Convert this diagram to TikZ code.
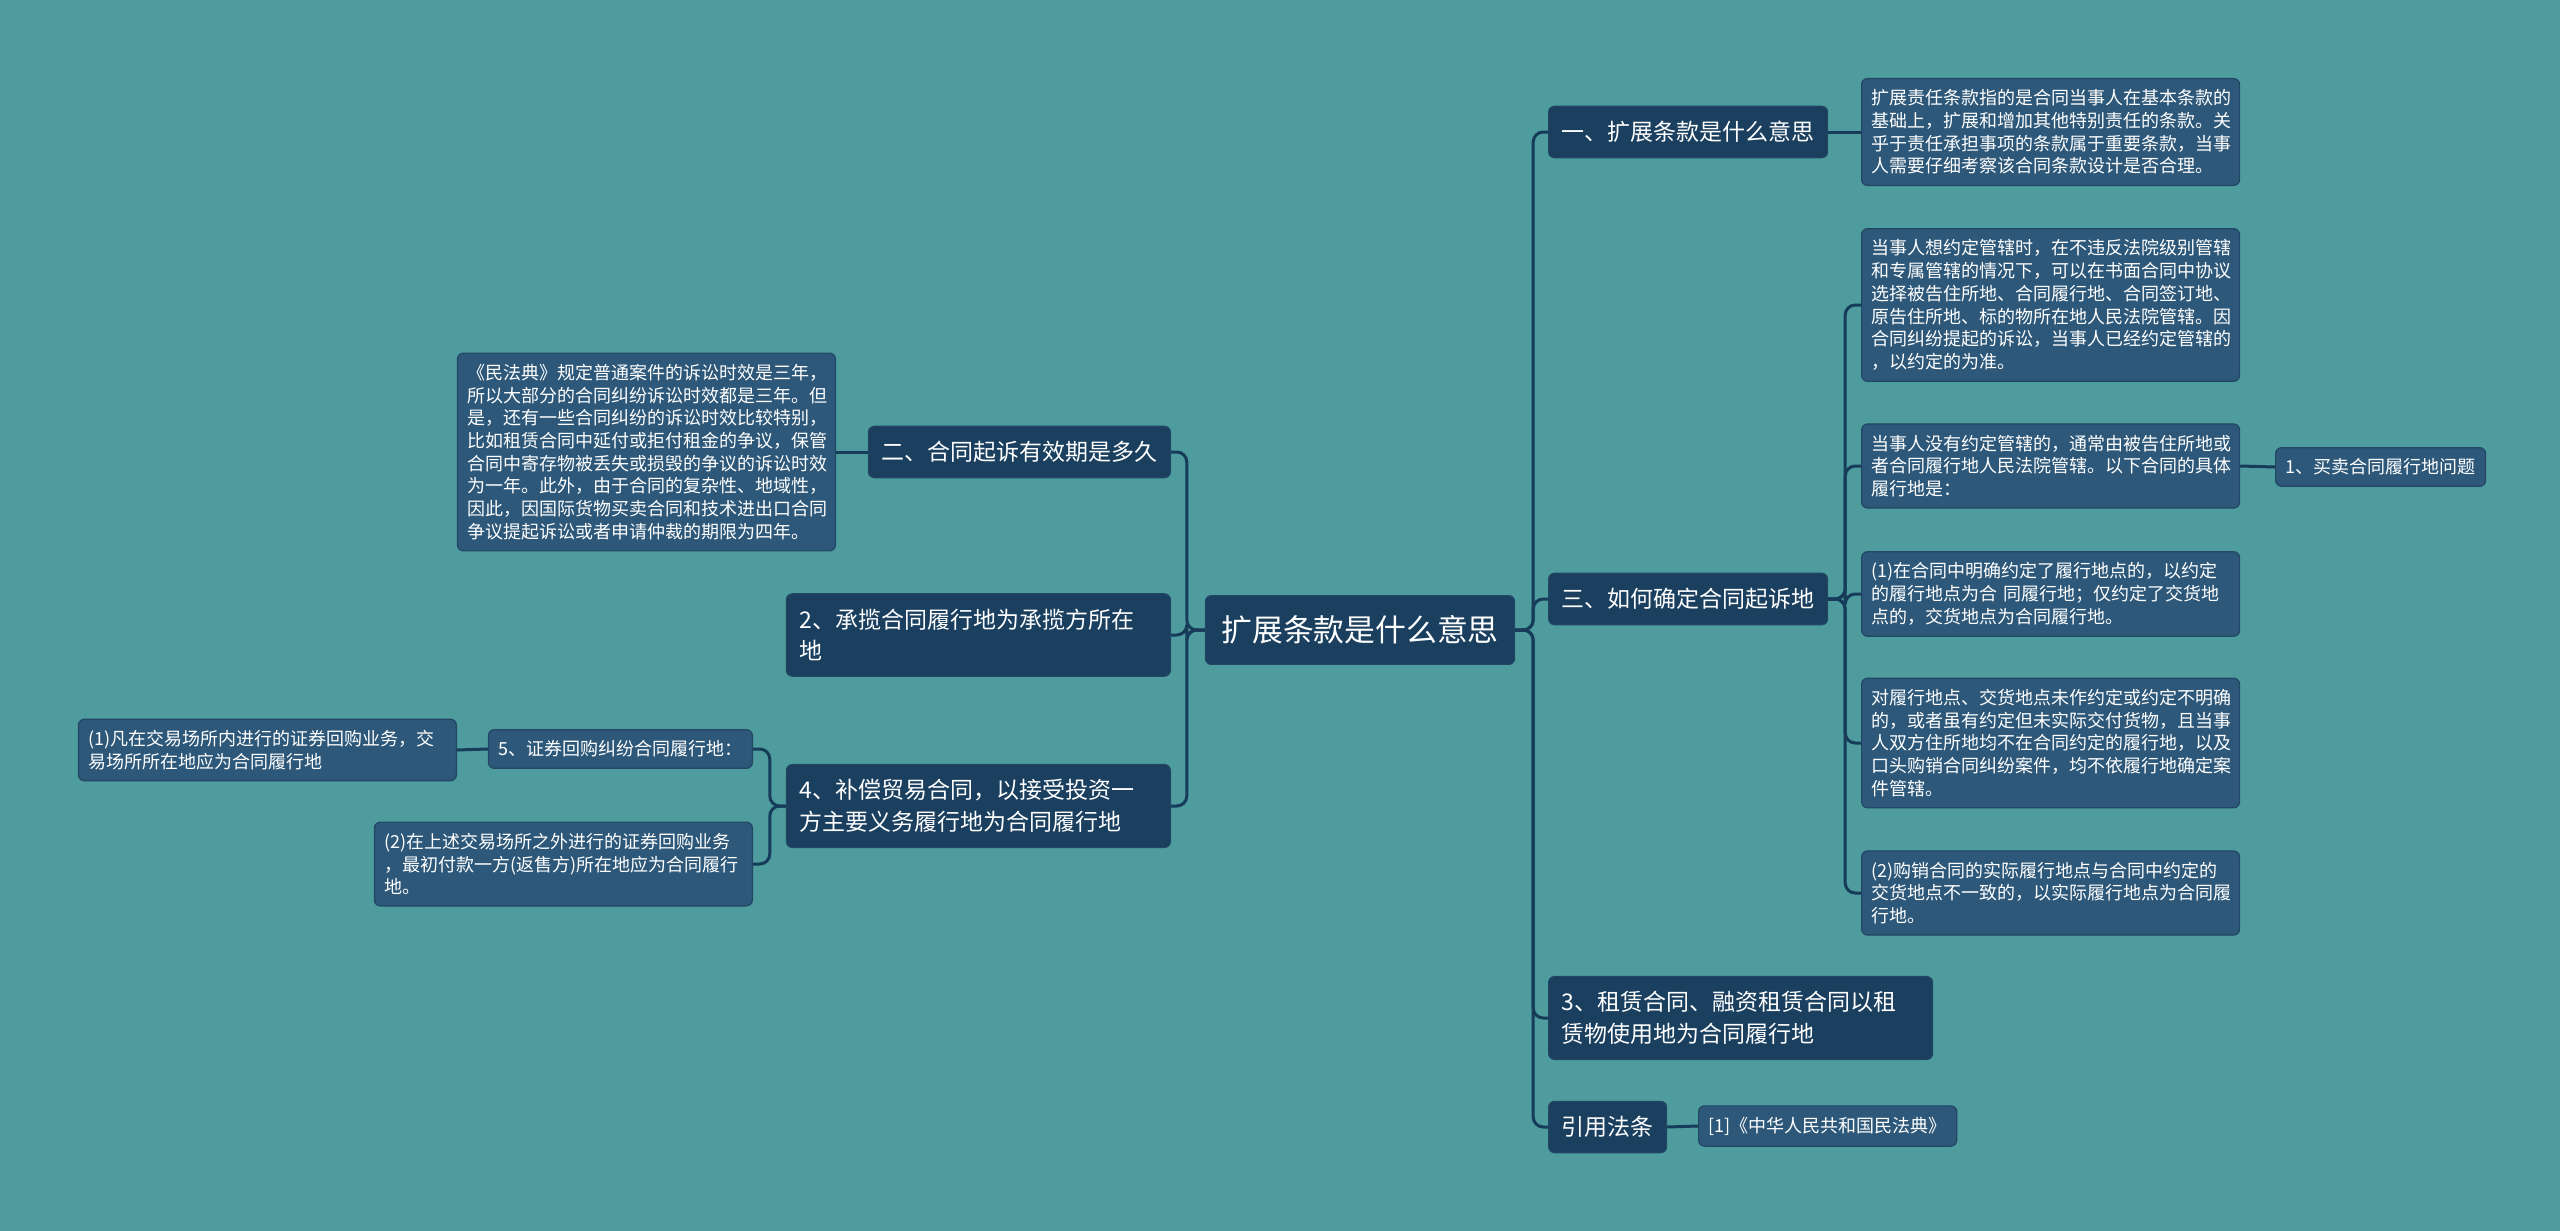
\documentclass[tikz,border=0pt]{standalone}
\usepackage{fontspec}
\newfontfamily\cjk{Noto Sans CJK SC}
\usepackage{tikz}
\usetikzlibrary{positioning}

\definecolor{bgteal}{RGB}{78,156,157}
\definecolor{navy}{RGB}{26,63,95}
\definecolor{leafblue}{RGB}{45,88,121}
\definecolor{leafedge}{RGB}{34,70,100}
\definecolor{linkblue}{RGB}{22,60,90}

\begin{document}
\begin{tikzpicture}[
    x=0.5pt, y=-0.5pt,          % one unit is one pixel of the sheet
    ]
% -------------------------------------------------
\tikzset{
  base/.style={rounded corners=3pt, text=white, align=left, draw=leafedge, line width=0.6pt},
  root/.style={base, fill=navy, font={\cjk\fontsize{15.4}{19}\selectfont}, inner xsep=8pt, inner ysep=10pt},
  topic/.style={base, fill=navy, font={\cjk\fontsize{11.5}{15.8}\selectfont}, inner xsep=6.5pt, inner ysep=7.5pt},
  topicw/.style={topic, text width=179pt},
  leaf/.style={base, fill=leafblue, font={\cjk\fontsize{9}{11.35}\selectfont}, inner xsep=5pt, inner ysep=5.5pt},
  leafw/.style={leaf, text width=179pt},
  link/.style={draw=linkblue, line width=1.5pt, rounded corners=5pt}
}
% -------------------------------------------------
\useasboundingbox (0,0) rectangle (2560,1231);
\fill[bgteal] (0,0) rectangle (2560,1231);

% Placing the nodes
\node [root] (ctr) at (1360,630) {扩展条款是什么意思};

% right side
\node [topic, anchor=west] (r1) at (1548,132) {一、扩展条款是什么意思};
\node [topic, anchor=west] (r2) at (1548,599) {三、如何确定合同起诉地};
\node [topicw, anchor=west] (r3) at (1548,1018) {3、租赁合同、融资租赁合同以租\\赁物使用地为合同履行地};
\node [topic, anchor=west] (r4) at (1548,1127) {引用法条};

\node [leafw, anchor=west] (r1a) at (1861,132) {扩展责任条款指的是合同当事人在基本条款的\\基础上，扩展和增加其他特别责任的条款。关\\乎于责任承担事项的条款属于重要条款，当事\\人需要仔细考察该合同条款设计是否合理。};
\node [leafw, anchor=west] (r2a) at (1861,305) {当事人想约定管辖时，在不违反法院级别管辖\\和专属管辖的情况下，可以在书面合同中协议\\选择被告住所地、合同履行地、合同签订地、\\原告住所地、标的物所在地人民法院管辖。因\\合同纠纷提起的诉讼，当事人已经约定管辖的\\，以约定的为准。};
\node [leafw, anchor=west] (r2b) at (1861,466) {当事人没有约定管辖的，通常由被告住所地或\\者合同履行地人民法院管辖。以下合同的具体\\履行地是：};
\node [leaf, anchor=west] (r2b1) at (2275,467) {1、买卖合同履行地问题};
\node [leafw, anchor=west] (r2c) at (1861,594) {(1)在合同中明确约定了履行地点的，以约定\\的履行地点为合 同履行地；仅约定了交货地\\点的，交货地点为合同履行地。};
\node [leafw, anchor=west] (r2d) at (1861,743) {对履行地点、交货地点未作约定或约定不明确\\的，或者虽有约定但未实际交付货物，且当事\\人双方住所地均不在合同约定的履行地，以及\\口头购销合同纠纷案件，均不依履行地确定案\\件管辖。};
\node [leafw, anchor=west] (r2e) at (1861,893) {(2)购销合同的实际履行地点与合同中约定的\\交货地点不一致的，以实际履行地点为合同履\\行地。};
\node [leaf, anchor=west] (r4a) at (1698,1126) {[1]《中华人民共和国民法典》};

% left side
\node [topic, anchor=east] (l1) at (1171,452) {二、合同起诉有效期是多久};
\node [topicw, anchor=east] (l2) at (1171,635) {2、承揽合同履行地为承揽方所在\\地};
\node [topicw, anchor=east] (l3) at (1171,806) {4、补偿贸易合同，以接受投资一\\方主要义务履行地为合同履行地};

\node [leafw, anchor=east] (l1a) at (836,452) {《民法典》规定普通案件的诉讼时效是三年，\\所以大部分的合同纠纷诉讼时效都是三年。但\\是，还有一些合同纠纷的诉讼时效比较特别，\\比如租赁合同中延付或拒付租金的争议，保管\\合同中寄存物被丢失或损毁的争议的诉讼时效\\为一年。此外，由于合同的复杂性、地域性，\\因此，因国际货物买卖合同和技术进出口合同\\争议提起诉讼或者申请仲裁的期限为四年。};
\node [leaf, anchor=east] (l3a) at (753,749) {5、证券回购纠纷合同履行地：};
\node [leafw, anchor=east] (l3a1) at (457,750) {(1)凡在交易场所内进行的证券回购业务，交\\易场所所在地应为合同履行地};
\node [leafw, anchor=east] (l3b) at (753,864) {(2)在上述交易场所之外进行的证券回购业务\\，最初付款一方(返售方)所在地应为合同履行\\地。};

% -------------------------------------------------
% Connectors
\foreach \kid in {r1,r2,r3,r4}
  \path [link] (ctr.east) -- ++(18,0) |- (\kid.west);
\foreach \kid in {l1,l2,l3}
  \path [link] (ctr.west) -- ++(-18,0) |- (\kid.east);
\foreach \kid in {r2a,r2b,r2c,r2d,r2e}
  \path [link] (r2.east) -- ++(17,0) |- (\kid.west);
\foreach \kid in {l3a,l3b}
  \path [link] (l3.west) -- ++(-16,0) |- (\kid.east);

\path [link] (r1.east) -- (r1a.west);
\path [link] (r2b.east) -- (r2b1.west);
\path [link] (r4.east) -- (r4a.west);
\path [link] (l1.west) -- (l1a.east);
\path [link] (l3a.west) -- (l3a1.east);

\end{tikzpicture}
\end{document}
